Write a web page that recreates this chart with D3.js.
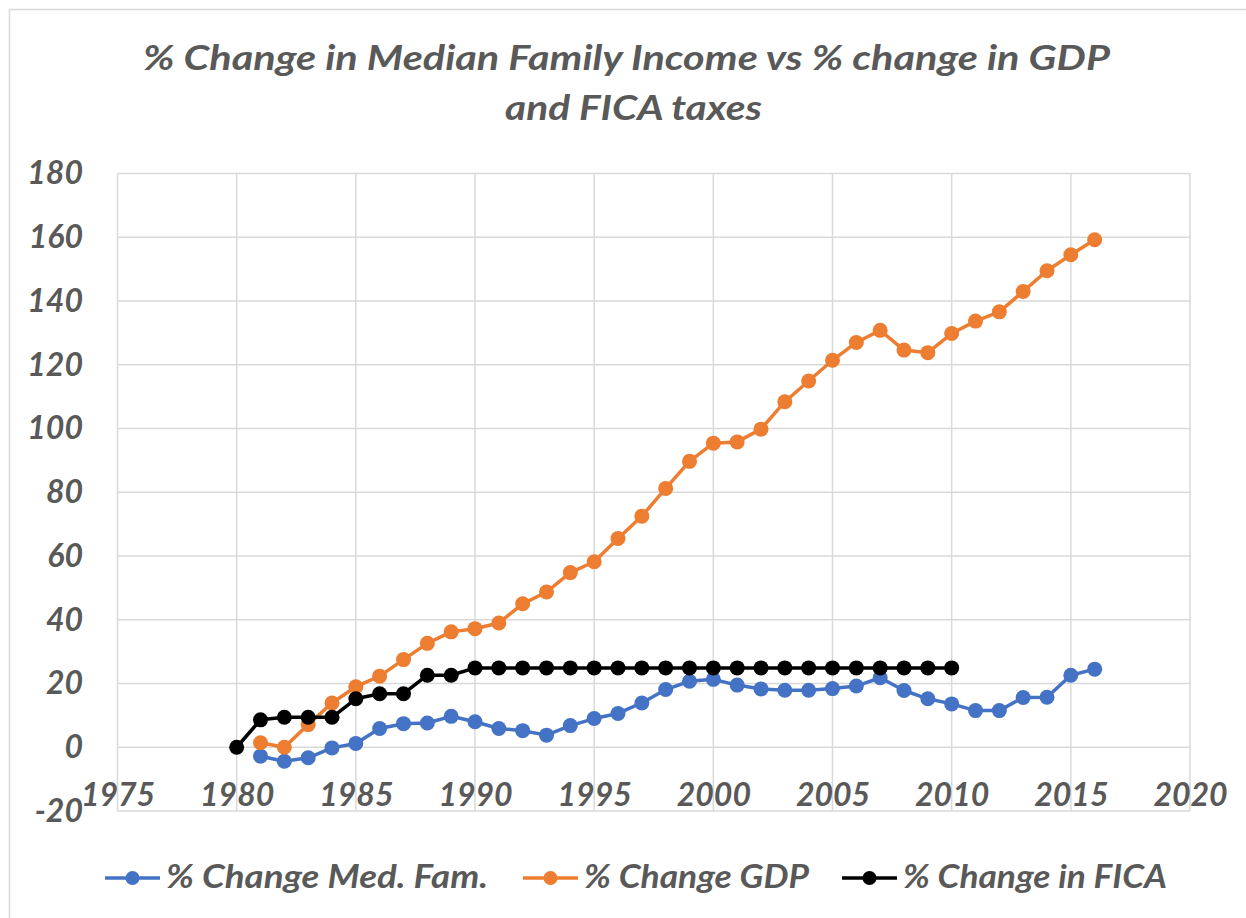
<!DOCTYPE html>
<html>
<head>
<meta charset="utf-8">
<script src="https://cdn.jsdelivr.net/npm/d3@7"></script>
<style>
  body { margin: 0; background: #fff; }
  text { font-family: Lato, "Open Sans", sans-serif; font-weight: bold; font-style: italic; fill: #595959; }
</style>
</head>
<body>
<div id="chart"></div>
<script>
// data
const years = [1980, 1981, 1982, 1983, 1984, 1985, 1986, 1987, 1988, 1989,
  1990, 1991, 1992, 1993, 1994, 1995, 1996, 1997, 1998, 1999,
  2000, 2001, 2002, 2003, 2004, 2005, 2006, 2007, 2008, 2009,
  2010, 2011, 2012, 2013, 2014, 2015, 2016];

const medFam = [null, -2.8, -4.4, -3.3, -0.2, 1.2, 5.9, 7.4, 7.6, 9.7,
  8.0, 5.9, 5.2, 3.8, 6.8, 9.0, 10.6, 13.9, 18.1, 20.7,
  21.3, 19.5, 18.3, 17.9, 17.9, 18.4, 19.2, 21.8, 17.8, 15.2,
  13.6, 11.5, 11.5, 15.6, 15.7, 22.6, 24.5];

const gdp = [null, 1.4, 0.0, 7.1, 13.9, 19.0, 22.3, 27.5, 32.6, 36.2,
  37.2, 39.0, 45.0, 48.7, 54.8, 58.2, 65.5, 72.5, 81.2, 89.7,
  95.4, 95.8, 99.8, 108.4, 114.9, 121.4, 127.0, 130.8, 124.6, 123.8,
  129.8, 133.7, 136.6, 143.0, 149.5, 154.5, 159.2];

const fica = [0, 8.6, 9.4, 9.4, 9.4, 15.2, 16.8, 16.8, 22.6, 22.6,
  24.9, 24.9, 24.9, 24.9, 24.9, 24.9, 24.9, 24.9, 24.9, 24.9,
  24.9, 24.9, 24.9, 24.9, 24.9, 24.9, 24.9, 24.9, 24.9, 24.9,
  24.9, null, null, null, null, null, null];

const xTicks = [1975, 1980, 1985, 1990, 1995, 2000, 2005, 2010, 2015, 2020];
const yTicks = [-20, 0, 20, 40, 60, 80, 100, 120, 140, 160, 180];

const seriesNames = ["% Change Med. Fam.", "% Change GDP", "% Change in FICA"];
const seriesColors = ["#4472C4", "#ED7D31", "#000000"];
const seriesValues = [medFam, gdp, fica];

const width = 1246, height = 918;

const svg = d3.select("#chart").append("svg")
  .attr("width", width)
  .attr("height", height);

// chart border
svg.append("rect")
  .attr("x", 9.5).attr("y", 9.5)
  .attr("width", 1250).attr("height", 920)
  .attr("fill", "none")
  .attr("stroke", "#d9d9d9")
  .attr("stroke-width", 1.5);

const x = d3.scaleLinear().domain([1975, 2020]).range([117.5, 1190]);
const y = d3.scaleLinear().domain([-20, 180]).range([811, 173.5]);

// title
const title = svg.append("g");
title.append("text")
  .attr("x", 143).attr("y", 70)
  .attr("font-size", 35)
  .attr("textLength", 967).attr("lengthAdjust", "spacingAndGlyphs")
  .text("% Change in Median Family Income vs % change in GDP");
title.append("text")
  .attr("x", 505).attr("y", 120)
  .attr("font-size", 35)
  .attr("textLength", 257).attr("lengthAdjust", "spacingAndGlyphs")
  .text("and FICA taxes");

// gridlines
const grid = svg.append("g")
  .attr("stroke", "#d9d9d9")
  .attr("stroke-width", 1.5);
grid.selectAll(".hg").data(yTicks).enter().append("line")
  .attr("x1", x(1975)).attr("x2", x(2020))
  .attr("y1", d => y(d)).attr("y2", d => y(d));
grid.selectAll(".vg").data(xTicks).enter().append("line")
  .attr("x1", d => x(d)).attr("x2", d => x(d))
  .attr("y1", y(180)).attr("y2", y(-20));

// y axis
const yAxis = svg.append("g")
  .attr("transform", `translate(${x(1975)},0)`)
  .call(d3.axisLeft(y).tickValues(yTicks).tickFormat(d => String(d)).tickSize(0).tickPadding(34.5));
yAxis.select(".domain").remove();
yAxis.selectAll("text")
  .attr("font-size", 32)
  .attr("fill", null);

// x axis (crosses at 0)
const xAxis = svg.append("g")
  .attr("transform", `translate(0,${y(0)})`)
  .call(d3.axisBottom(x).tickValues(xTicks).tickFormat(d3.format("d")).tickSize(0));
xAxis.select(".domain").remove();
xAxis.selectAll("text")
  .attr("y", 59).attr("dy", null)
  .attr("font-size", 32)
  .attr("fill", null);
svg.selectAll("g[font-family]").attr("font-family", null).attr("font-size", null);

// series
const line = d3.line()
  .defined(d => d[1] != null)
  .x(d => x(d[0]))
  .y(d => y(d[1]));

seriesValues.forEach((vals, i) => {
  const pts = years.map((yr, j) => [yr, vals[j]]);
  const g = svg.append("g");
  g.append("path")
    .datum(pts)
    .attr("fill", "none")
    .attr("stroke", seriesColors[i])
    .attr("stroke-width", 3.5)
    .attr("stroke-linejoin", "round")
    .attr("d", line);
  g.selectAll("circle")
    .data(pts.filter(d => d[1] != null))
    .enter().append("circle")
    .attr("cx", d => x(d[0]))
    .attr("cy", d => y(d[1]))
    .attr("r", 7.5)
    .attr("fill", seriesColors[i]);
});

// legend
const legendX = [105, 523, 842];
const legendTextW = [322, 225, 264];
const legend = svg.append("g").attr("transform", "translate(0,878)");
seriesNames.forEach((name, i) => {
  const item = legend.append("g").attr("transform", `translate(${legendX[i]},0)`);
  item.append("line")
    .attr("x1", 0).attr("x2", 55)
    .attr("stroke", seriesColors[i])
    .attr("stroke-width", 3.5);
  item.append("circle")
    .attr("cx", 27.5).attr("r", 7)
    .attr("fill", seriesColors[i]);
  item.append("text")
    .attr("x", 61).attr("y", 10)
    .attr("font-size", 32)
    .attr("textLength", legendTextW[i]).attr("lengthAdjust", "spacingAndGlyphs")
    .text(name);
});
</script>
</body>
</html>
